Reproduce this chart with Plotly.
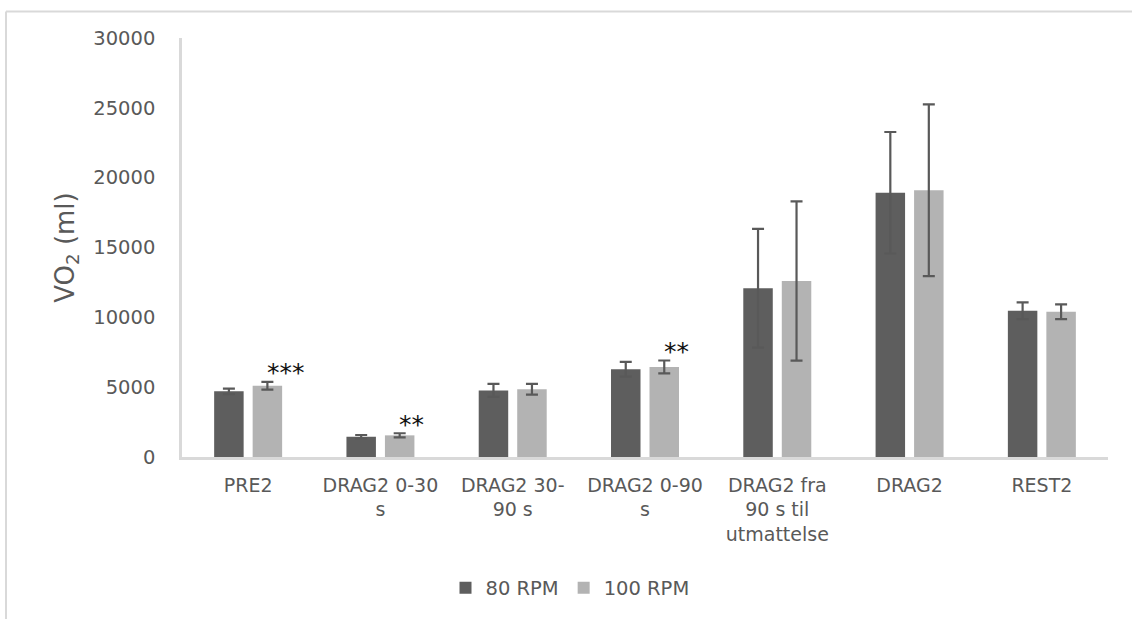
import plotly.graph_objects as go

categories = ["PRE2", "DRAG2 0-30<br>s", "DRAG2 30-<br>90 s", "DRAG2 0-90<br>s",
              "DRAG2 fra<br>90 s til<br>utmattelse", "DRAG2", "REST2"]
vo2_80 = [4700, 1450, 4770, 6280, 12080, 18920, 10470]
err_80 = [200, 125, 460, 530, 4250, 4350, 600]
vo2_100 = [5100, 1550, 4850, 6450, 12600, 19100, 10400]
err_100 = [280, 150, 380, 460, 5700, 6150, 530]
sig_100 = ["***", "**", "", "**", "", "", ""]
y_ticks = [0, 5000, 10000, 15000, 20000, 25000, 30000]

FONT = "DejaVu Sans"
TXT = "#595959"
DARK = "#5e5e5e"
LIGHT = "#b3b3b3"
ERR = "#595959"

fig = go.Figure()
fig.add_trace(go.Bar(
    name="80 RPM", x=categories, y=vo2_80, marker=dict(color=DARK, line=dict(width=0)),
    error_y=dict(type="data", array=err_80, visible=True, color=ERR, thickness=2.2, width=6),
))
fig.add_trace(go.Bar(
    name="100 RPM", x=categories, y=vo2_100, marker=dict(color=LIGHT, line=dict(width=0)),
    error_y=dict(type="data", array=err_100, visible=True, color=ERR, thickness=2.2, width=6),
))

for c, v, e, s in zip(categories, vo2_100, err_100, sig_100):
    if s:
        fig.add_annotation(x=c, y=v + e, xref="x", yref="y", text=s, showarrow=False,
                           xanchor="left", yanchor="middle", xshift=17, yshift=9,
                           font=dict(family=FONT, size=25, color="#111111"))

# outer chart-area frame (cropped at right and bottom in the reference)
L, T, R, B = 182, 38, 1108, 457
W, H = R - L, B - T
def px(x):
    return (x - L) / W
def py(y):
    return (B - y) / H
frame = dict(color="#d9d9d9", width=2)
fig.add_shape(type="line", xref="paper", yref="paper", x0=px(6), x1=px(6), y0=py(11.5), y1=py(640), line=frame)
fig.add_shape(type="line", xref="paper", yref="paper", x0=px(6), x1=px(1150), y0=py(11.5), y1=py(11.5), line=frame)

fig.update_layout(
    width=1132, height=619,
    margin=dict(l=L, r=1132 - R, t=T, b=619 - B, autoexpand=False),
    paper_bgcolor="white", plot_bgcolor="white",
    barmode="group", bargap=0.418, bargroupgap=0.234,
    font=dict(family=FONT, color=TXT, size=19),
    showlegend=True,
    legend=dict(orientation="h", x=px(570), xanchor="center", y=py(588), yanchor="middle",
                font=dict(family=FONT, size=19.5, color=TXT), itemwidth=30,
                bgcolor="rgba(0,0,0,0)"),
    xaxis=dict(showgrid=False, zeroline=False, showline=True, linecolor="#d9d9d9", linewidth=2.5,
               ticks="", tickfont=dict(family=FONT, size=19, color=TXT), ticklabelstandoff=9,
               fixedrange=True),
    yaxis=dict(range=[0, 30000], tickvals=y_ticks, ticktext=[str(t) for t in y_ticks],
               showgrid=False, zeroline=False, showline=True, linecolor="#d9d9d9", linewidth=2.5,
               ticks="", tickfont=dict(family=FONT, size=19.5, color=TXT), ticklabelstandoff=20,
               title=dict(text="VO<sub>2</sub> (ml)", font=dict(family=FONT, size=26, color=TXT), standoff=12),
               automargin=False, fixedrange=True),
)

fig.write_html("out.html", config={"displayModeBar": False},
               post_script="document.body.style.margin='0px';document.body.style.padding='0px';")
